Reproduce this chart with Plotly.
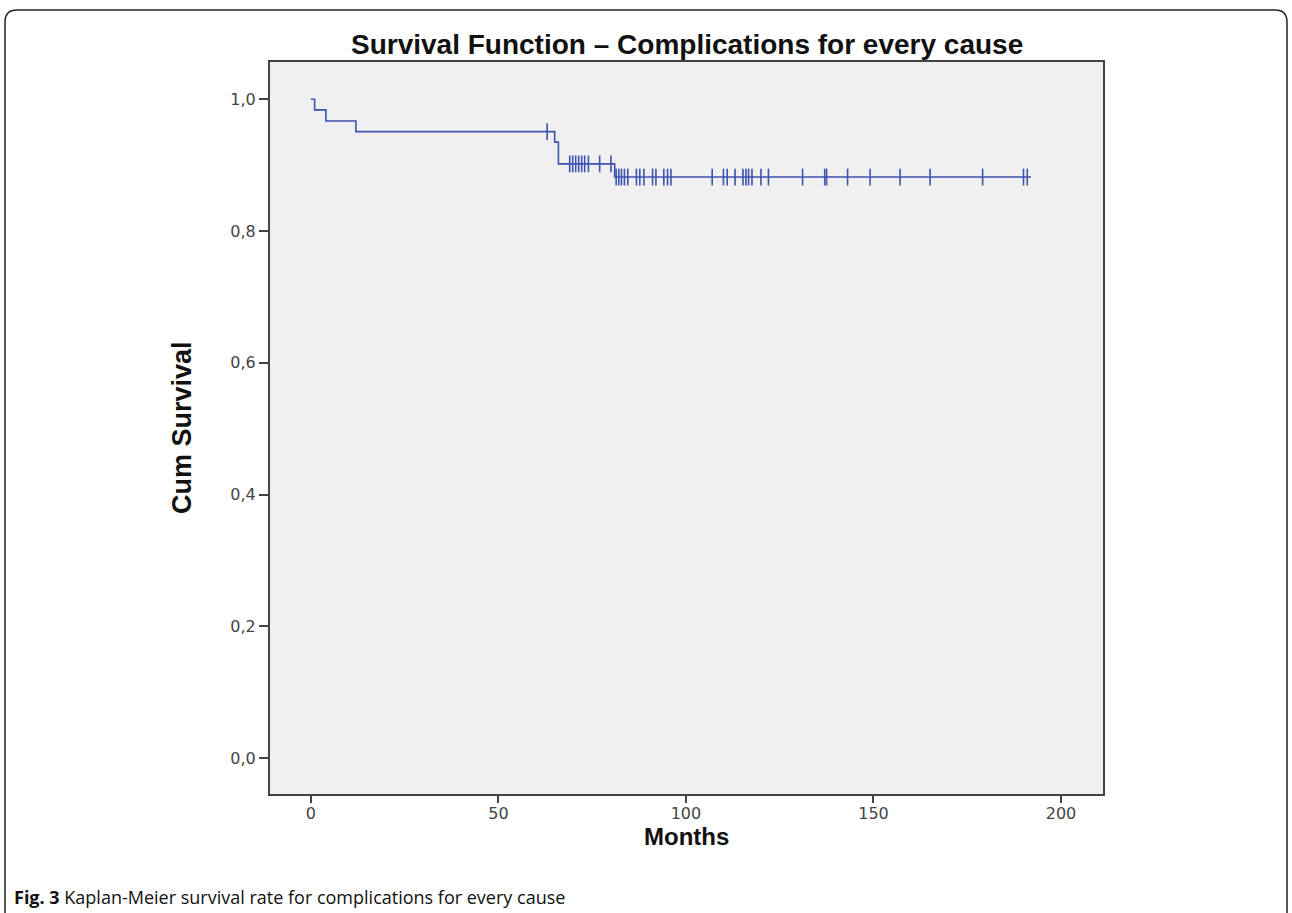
import plotly.graph_objects as go

# Kaplan-Meier step function (months, cumulative survival)
step_times = [0, 1, 4, 12, 65, 66, 81, 192]
step_surv = [1.0, 0.984, 0.967, 0.951, 0.935, 0.902, 0.882, 0.882]

# Censored observations (months)
censor_times = [63,
                69, 69.8, 70.6, 71.4, 72.2, 73, 74, 77, 80,
                81.4, 82.1, 82.8, 83.6, 84.5, 86.8, 87.7, 88.8, 91.1, 92,
                94.1, 95.1, 96, 107, 110, 111, 113.1, 115.2, 116, 116.7,
                117.6, 120, 122, 131.1, 137, 137.5, 143.1, 149.1, 157.1,
                165.1, 179.1, 190, 191]

x_ticks = [0, 50, 100, 150, 200]
y_ticks = [0.0, 0.2, 0.4, 0.6, 0.8, 1.0]


def surv_at(t):
    s = step_surv[0]
    for tt, ss in zip(step_times, step_surv):
        if tt <= t:
            s = ss
    return s


censor_surv = [surv_at(t) for t in censor_times]

LINE = "#3d52b1"
fig = go.Figure()
fig.add_trace(go.Scatter(x=step_times, y=step_surv, mode="lines",
                         line=dict(color=LINE, width=1.6, shape="hv"),
                         showlegend=False, hoverinfo="skip"))
fig.add_trace(go.Scatter(x=censor_times, y=censor_surv, mode="markers",
                         marker=dict(symbol="line-ns", size=12,
                                     line=dict(color=LINE, width=1.6)),
                         showlegend=False))

L, R, T, B = 270, 189, 62, 119
W, H = 1292, 913
pw, ph = W - L - R, H - T - B


def px(x):
    return (x - L) / pw


def py(y):
    return (H - B - y) / ph


bold_font = "Liberation Sans, Arial, sans-serif"
tick_font = dict(family="DejaVu Sans", size=16, color="#444")

fig.update_layout(
    width=W, height=H,
    margin=dict(l=L, r=R, t=T, b=B, pad=0),
    paper_bgcolor="white", plot_bgcolor="#f0f0f0",
    separators=",.",
    xaxis=dict(range=[-10.9, 211.2], tickvals=x_ticks, showgrid=False,
               zeroline=False, showline=True, mirror=True,
               linecolor="#444", linewidth=2, ticks="outside", ticklen=7,
               tickwidth=2, tickcolor="#444", tickfont=tick_font,
               ticklabelstandoff=-3),
    yaxis=dict(range=[-0.0542, 1.0566], tickvals=y_ticks, tickformat=".1f",
               showgrid=False, zeroline=False, showline=True, mirror=True,
               linecolor="#444", linewidth=2, ticks="outside", ticklen=9,
               tickwidth=2, tickcolor="#444", tickfont=tick_font),
)

fig.add_annotation(text="<b>Survival Function – Complications for every cause</b>",
                   xref="paper", yref="paper", x=0.5, y=py(44),
                   xanchor="center", yanchor="middle", showarrow=False,
                   font=dict(family=bold_font, size=28, color="#111"))
fig.add_annotation(text="<b>Cum Survival</b>", xref="paper", yref="paper",
                   x=px(182), y=0.5, textangle=-90, xanchor="center",
                   yanchor="middle", showarrow=False,
                   font=dict(family=bold_font, size=27, color="#111"))
fig.add_annotation(text="<b>Months</b>", xref="paper", yref="paper",
                   x=0.5, y=py(836), xanchor="center", yanchor="middle",
                   showarrow=False, font=dict(family=bold_font, size=24, color="#111"))
fig.add_annotation(text="<b>Fig. 3</b> Kaplan-Meier survival rate for complications for every cause",
                   xref="paper", yref="paper", x=px(12), y=py(897),
                   xanchor="left", yanchor="middle", showarrow=False,
                   font=dict(family="Open Sans", size=18, color="#111"))

# rounded outer frame
lx, rx_, ty, by = px(5), px(1287), py(10), py(925)
cx, cy = 12 / pw, 12 / ph
path = (f"M {lx},{by} L {lx},{ty - cy} Q {lx},{ty} {lx + cx},{ty} "
        f"L {rx_ - cx},{ty} Q {rx_},{ty} {rx_},{ty - cy} L {rx_},{by}")
fig.add_shape(type="path", path=path, xref="paper", yref="paper",
              line=dict(color="#222", width=1.5))

fig.write_html("out.html", config={"displayModeBar": False},
               post_script="document.body.style.margin='0';document.body.style.overflow='hidden';")
